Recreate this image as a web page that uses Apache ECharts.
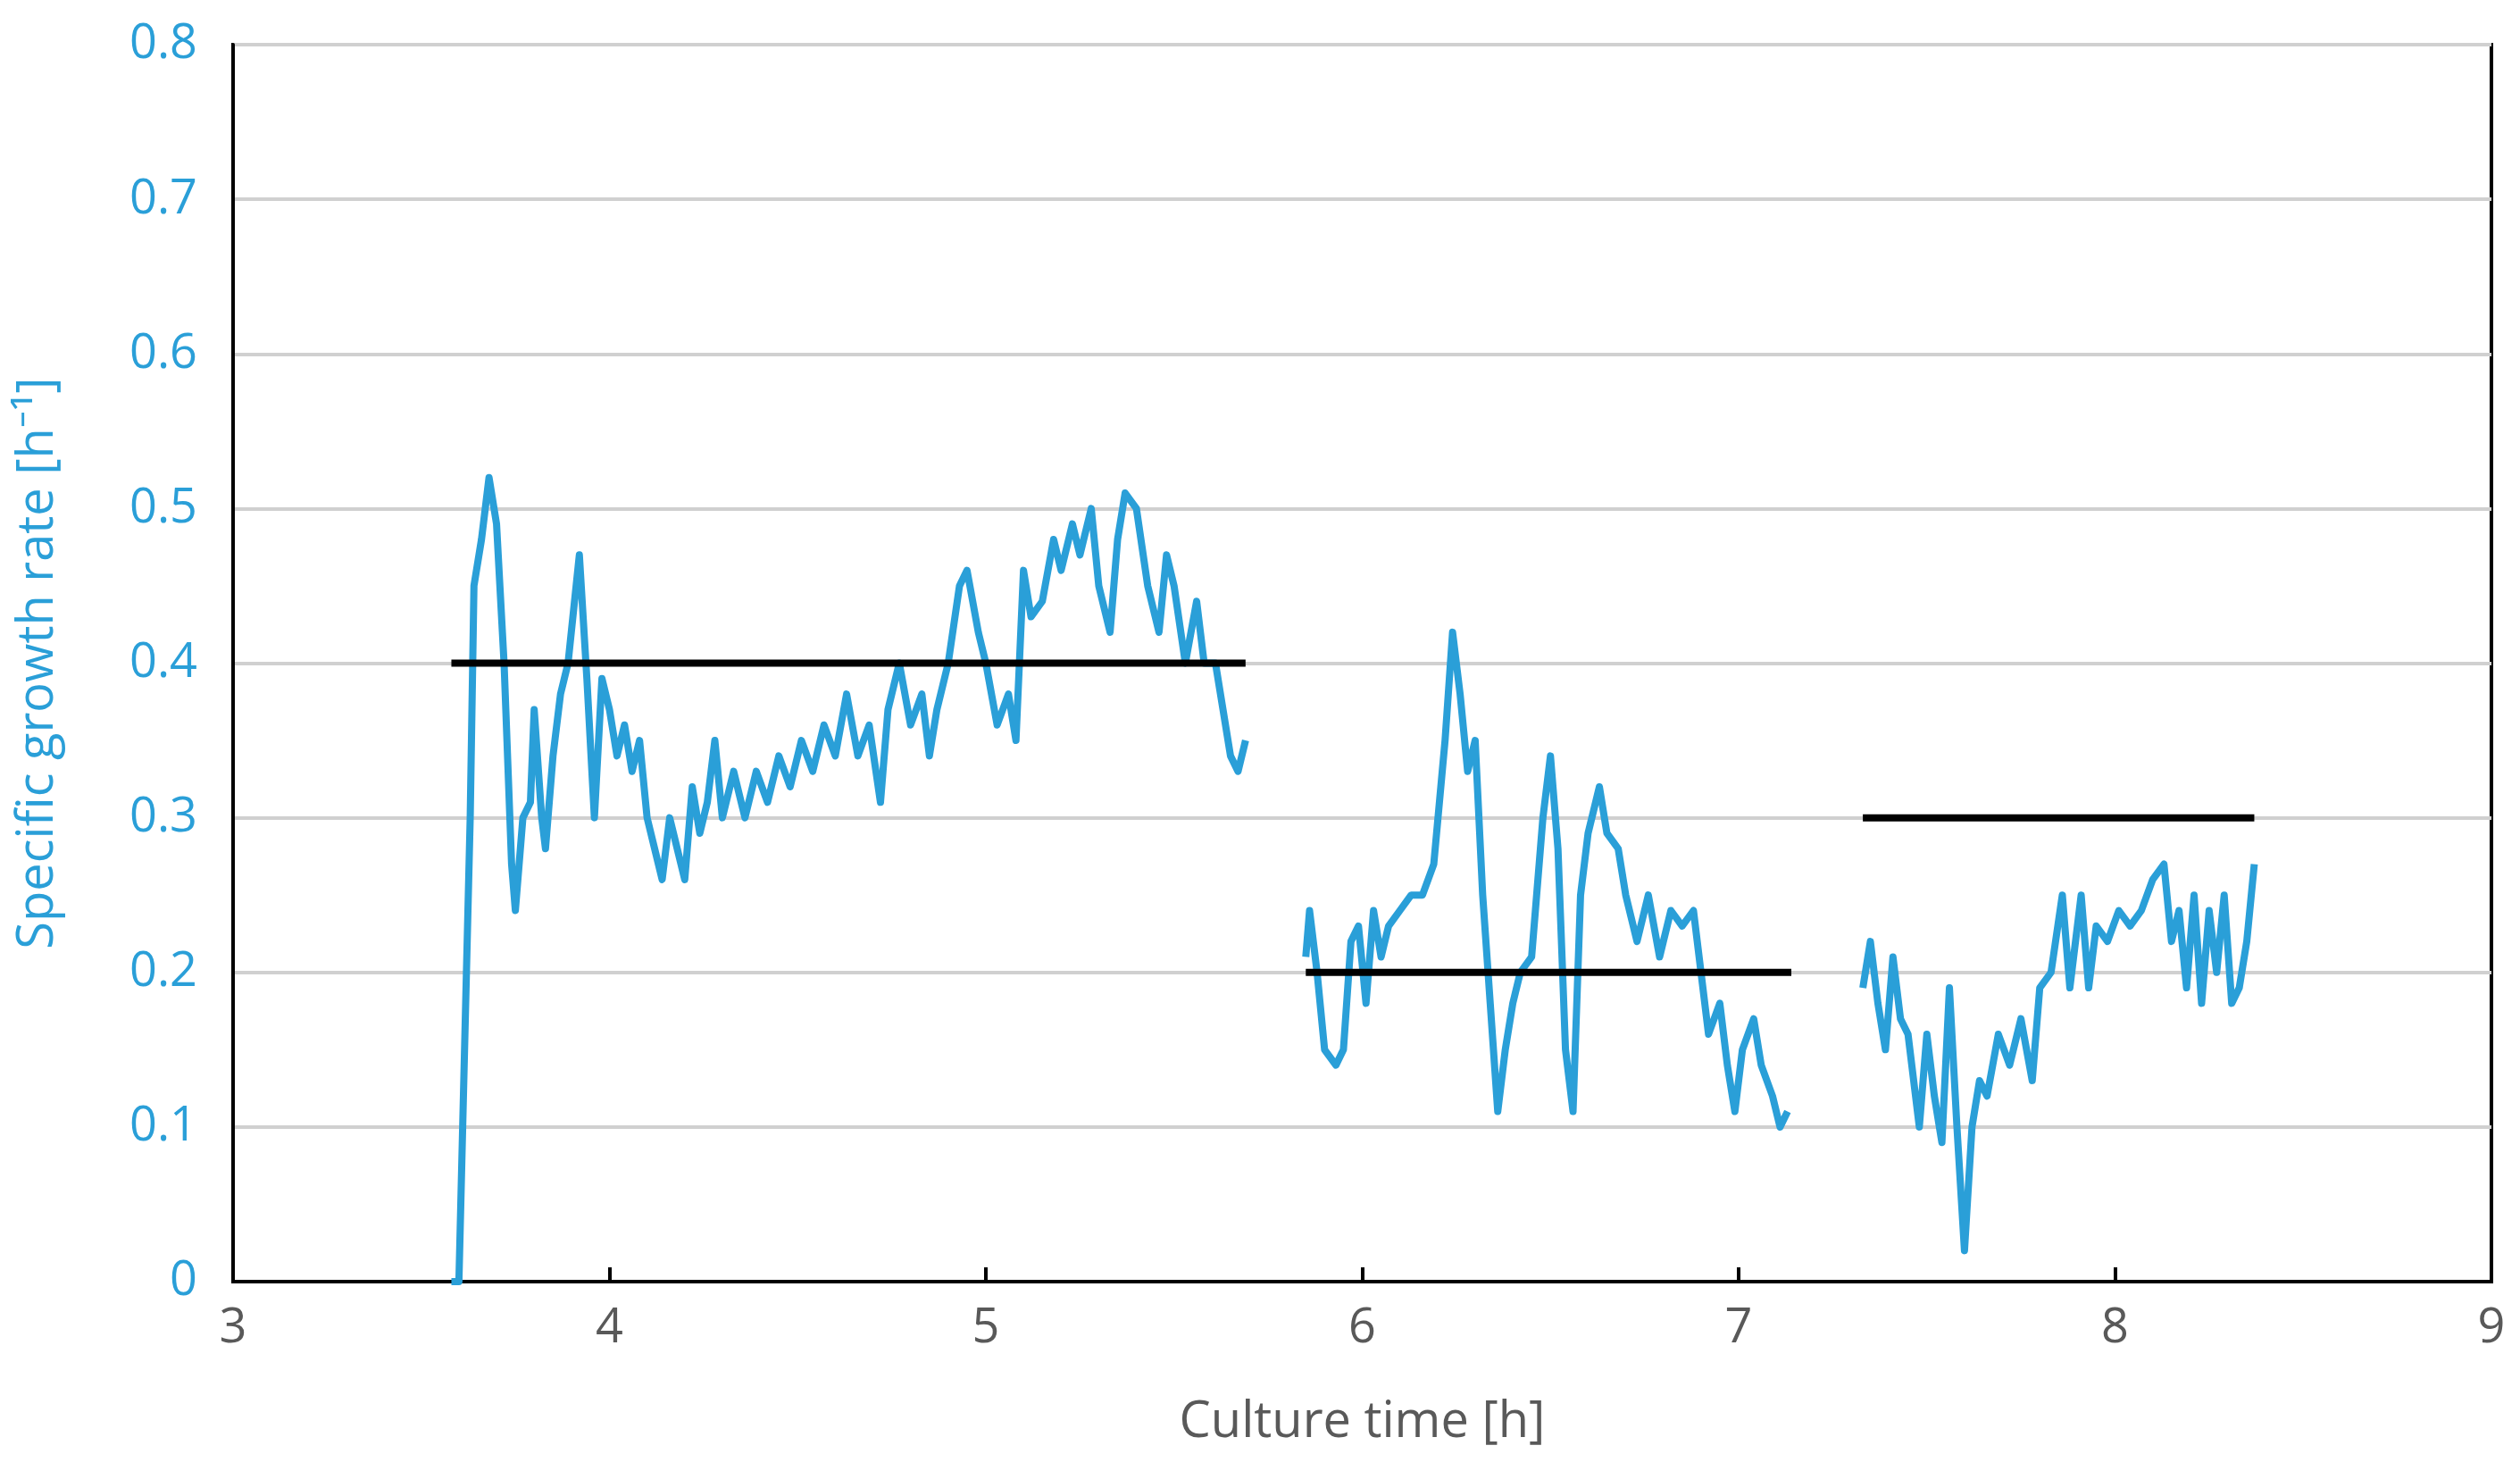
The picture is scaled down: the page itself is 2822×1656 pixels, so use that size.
<!DOCTYPE html>
<html>
<head>
<meta charset="utf-8">
<script src="https://cdn.jsdelivr.net/npm/echarts@6/dist/echarts.min.js"></script>
<style>html,body{margin:0;padding:0;background:#fff}#chart{width:2822px;height:1656px}</style>
</head>
<body>
<div id="chart"></div>
<script>
// measured growth rate, three culture phases
var seg1 = [[3.58,0],[3.60,0],[3.61,0.1],[3.63,0.3],[3.64,0.45],[3.66,0.48],[3.68,0.52],[3.70,0.49],[3.72,0.40],[3.74,0.27],[3.75,0.24],[3.77,0.30],[3.79,0.31],[3.80,0.37],[3.82,0.30],[3.83,0.28],[3.85,0.34],[3.87,0.38],[3.89,0.40],[3.92,0.47],[3.94,0.39],[3.96,0.30],[3.98,0.39],[4.00,0.37],[4.02,0.34],[4.04,0.36],[4.06,0.33],[4.08,0.35],[4.10,0.30],[4.12,0.28],[4.14,0.26],[4.16,0.30],[4.18,0.28],[4.20,0.26],[4.22,0.32],[4.24,0.29],[4.26,0.31],[4.28,0.35],[4.30,0.30],[4.33,0.33],[4.36,0.30],[4.39,0.33],[4.42,0.31],[4.45,0.34],[4.48,0.32],[4.51,0.35],[4.54,0.33],[4.57,0.36],[4.60,0.34],[4.63,0.38],[4.66,0.34],[4.69,0.36],[4.72,0.31],[4.74,0.37],[4.77,0.40],[4.80,0.36],[4.83,0.38],[4.85,0.34],[4.87,0.37],[4.90,0.40],[4.93,0.45],[4.95,0.46],[4.98,0.42],[5.00,0.40],[5.03,0.36],[5.06,0.38],[5.08,0.35],[5.10,0.46],[5.12,0.43],[5.15,0.44],[5.18,0.48],[5.20,0.46],[5.23,0.49],[5.25,0.47],[5.28,0.50],[5.30,0.45],[5.33,0.42],[5.35,0.48],[5.37,0.51],[5.40,0.50],[5.43,0.45],[5.46,0.42],[5.48,0.47],[5.50,0.45],[5.53,0.40],[5.56,0.44],[5.58,0.40],[5.61,0.40],[5.63,0.37],[5.65,0.34],[5.67,0.33],[5.69,0.35]];
var seg2 = [[5.85,0.21],[5.86,0.24],[5.88,0.20],[5.90,0.15],[5.93,0.14],[5.95,0.15],[5.97,0.22],[5.99,0.23],[6.01,0.18],[6.03,0.24],[6.05,0.21],[6.07,0.23],[6.10,0.24],[6.13,0.25],[6.16,0.25],[6.19,0.27],[6.22,0.35],[6.24,0.42],[6.26,0.38],[6.28,0.33],[6.30,0.35],[6.32,0.25],[6.34,0.18],[6.36,0.11],[6.38,0.15],[6.40,0.18],[6.42,0.20],[6.45,0.21],[6.48,0.30],[6.50,0.34],[6.52,0.28],[6.54,0.15],[6.56,0.11],[6.58,0.25],[6.60,0.29],[6.63,0.32],[6.65,0.29],[6.68,0.28],[6.70,0.25],[6.73,0.22],[6.76,0.25],[6.79,0.21],[6.82,0.24],[6.85,0.23],[6.88,0.24],[6.90,0.20],[6.92,0.16],[6.95,0.18],[6.97,0.14],[6.99,0.11],[7.01,0.15],[7.04,0.17],[7.06,0.14],[7.09,0.12],[7.11,0.10],[7.13,0.11]];
var seg3 = [[7.33,0.19],[7.35,0.22],[7.37,0.18],[7.39,0.15],[7.41,0.21],[7.43,0.17],[7.45,0.16],[7.48,0.10],[7.50,0.16],[7.52,0.12],[7.54,0.09],[7.56,0.19],[7.58,0.10],[7.60,0.02],[7.62,0.10],[7.64,0.13],[7.66,0.12],[7.69,0.16],[7.72,0.14],[7.75,0.17],[7.78,0.13],[7.80,0.19],[7.83,0.20],[7.86,0.25],[7.88,0.19],[7.91,0.25],[7.93,0.19],[7.95,0.23],[7.98,0.22],[8.01,0.24],[8.04,0.23],[8.07,0.24],[8.10,0.26],[8.13,0.27],[8.15,0.22],[8.17,0.24],[8.19,0.19],[8.21,0.25],[8.23,0.18],[8.25,0.24],[8.27,0.20],[8.29,0.25],[8.31,0.18],[8.33,0.19],[8.35,0.22],[8.37,0.27]];
// set-point levels
var set1 = [[3.58,0.4],[5.69,0.4]];
var set2 = [[5.85,0.2],[7.14,0.2]];
var set3 = [[7.33,0.3],[8.37,0.3]];

var blue = '#2a9fd8';
function meas(d){ return {type:'line', data:d, symbol:'none', lineStyle:{color:blue,width:8,join:'round'}, z:2}; }
function setp(d){ return {type:'line', data:d, symbol:'none', lineStyle:{color:'#000',width:8}, z:3}; }

var chart = echarts.init(document.getElementById('chart'));
chart.setOption({
  animation:false,
  grid:{left:261,right:32,top:50,bottom:221,show:true,borderColor:'#000',borderWidth:4},
  xAxis:{type:'value',min:3,max:9,interval:1,
    name:'Culture time [h]',nameLocation:'middle',nameGap:130,
    nameTextStyle:{fontFamily:'Open Sans',fontSize:56,color:'#595959'},
    axisLine:{lineStyle:{color:'#000',width:4}},
    axisTick:{show:true,inside:true,length:16,lineStyle:{color:'#000',width:4}},
    axisLabel:{fontFamily:'Open Sans',fontSize:54,color:'#595959',margin:26},
    splitLine:{show:false}},
  yAxis:{type:'value',min:0,max:0.8,interval:0.1,
    name:'Specific growth rate [h⁻¹]',nameLocation:'middle',nameGap:190,
    nameTextStyle:{fontFamily:'Open Sans',fontSize:56,color:blue},
    axisLine:{show:true,lineStyle:{color:'#000',width:4}},
    axisTick:{show:false},
    axisLabel:{fontFamily:'Open Sans',fontSize:54,color:blue,margin:40},
    splitLine:{lineStyle:{color:'#d0d0d0',width:4}}},
  series:[meas(seg1),meas(seg2),meas(seg3),setp(set1),setp(set2),setp(set3)]
});
</script>
</body>
</html>
